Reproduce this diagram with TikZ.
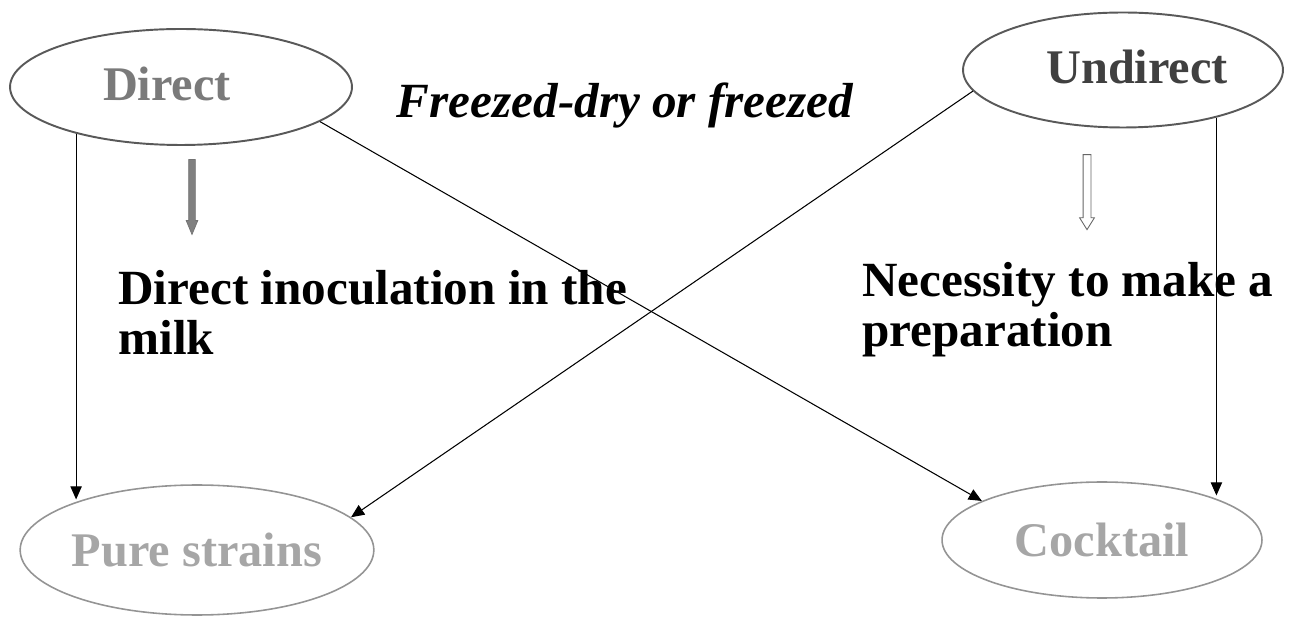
\documentclass[tikz,border=0pt]{standalone}
\usepackage{fontspec}
\setmainfont{Liberation Serif}
\usetikzlibrary{shapes.geometric,shapes.arrows,arrows.meta}

\begin{document}
\begin{tikzpicture}[x=0.02cm, y=-0.02cm,
  modo/.style={ellipse, draw=black!65, line width=1.1pt, inner sep=0pt, font=\fontsize{27.5}{30}\selectfont\bfseries},
  cepa/.style={ellipse, draw=black!42, line width=0.9pt, inner sep=0pt, text=black!35, font=\fontsize{27.5}{30}\selectfont\bfseries},
  texto/.style={align=left, anchor=north west, inner sep=0pt, font=\fontsize{28}{28.5}\selectfont\bfseries},
  flecha/.style={-{Triangle[length=7.5pt, width=6.5pt]}, line width=0.6pt},
  bloque/.style={single arrow, rotate=-90, minimum height=1.5cm, minimum width=0pt}]
\useasboundingbox (0,0) rectangle (1291,617);
\node[modo, text=black!52, minimum width=6.84cm, minimum height=2.32cm] (direct) at (181,87) {\raisebox{4pt}{Direct}\hspace*{16pt}};
\node[modo, text=black!75, minimum width=6.4cm, minimum height=2.3cm] (undirect) at (1123,70) {\hspace*{16pt}\raisebox{4pt}{Undirect}};
\node[cepa, minimum width=6.9cm, minimum height=2.6cm] (pure) at (197,550) {Pure strains};
\node[cepa, minimum width=6.4cm, minimum height=2.32cm] (cocktail) at (1102,540) {Cocktail};
\node[font=\fontsize{28}{30}\selectfont\bfseries\itshape, inner sep=0pt] (freeze) at (625,105) {Freezed-dry or freezed};
\node[texto] (inoc) at (118,270) {Direct inoculation in the\\milk};
\node[texto] (prep) at (862,262) {Necessity to make a\\preparation};
\node[bloque, inner sep=0.06cm, single arrow head extend=0.05cm, single arrow tip angle=45, fill=black!50, draw=black!55, line width=0.4pt] (bajaA) at (192,193) {};
\node[bloque, inner sep=0.07cm, single arrow head extend=0.07cm, single arrow tip angle=64, fill=white, draw=black!60, line width=0.5pt] (bajaB) at (1087,189) {};
\draw[flecha] (direct.204) -- (direct.204 |- pure.156);
\draw[flecha] (direct.346) -- (cocktail.162);
\draw[flecha] (undirect.188) -- (pure.12);
\draw[flecha] (undirect.333) -- (undirect.333 |- cocktail.23);
\end{tikzpicture}
\end{document}
